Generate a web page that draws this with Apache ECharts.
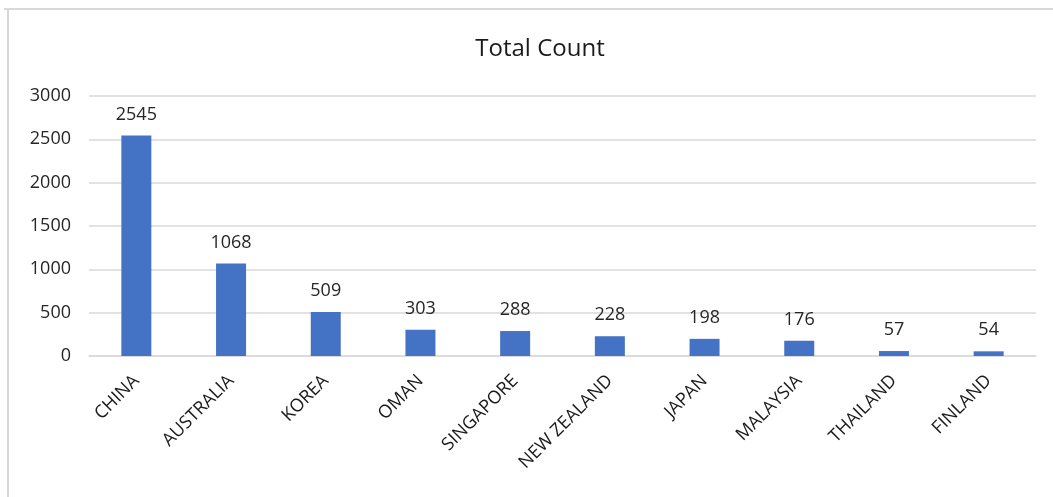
<!DOCTYPE html>
<html>
<head>
<meta charset="utf-8">
<script src="https://cdn.jsdelivr.net/npm/echarts@6/dist/echarts.min.js"></script>
<style>
html,body{margin:0;padding:0;background:#fff;}
#chart{width:1053px;height:497px;}
</style>
</head>
<body>
<div id="chart"></div>
<script>
var categories = ['CHINA','AUSTRALIA','KOREA','OMAN','SINGAPORE','NEW ZEALAND','JAPAN','MALAYSIA','THAILAND','FINLAND'];
var totalCount = [2545,1068,509,303,288,228,198,176,57,54];
var yTicks = [0,500,1000,1500,2000,2500,3000];

var chart = echarts.init(document.getElementById('chart'));
var font = '"Open Sans", "Noto Sans", sans-serif';
chart.setOption({
  animation: false,
  backgroundColor: '#fff',
  title: {
    text: 'Total Count',
    left: 'center',
    left: 535,
    textAlign: 'center',
    top: 32,
    textStyle: {fontFamily: font, fontSize: 24, fontWeight: 'normal', color: '#1a1a1a'}
  },
  graphic: [
    {type: 'line', shape: {x1: 4, y1: 9, x2: 1053, y2: 9}, style: {stroke: '#d9d9d9', lineWidth: 2}},
    {type: 'line', shape: {x1: 8, y1: 9, x2: 8, y2: 497}, style: {stroke: '#d9d9d9', lineWidth: 2}}
  ],
  grid: {left: 89, right: 17, top: 96, bottom: 141, containLabel: false},
  xAxis: {
    type: 'category',
    data: categories,
    axisLine: {lineStyle: {color: '#d9d9d9', width: 1.5}},
    axisTick: {show: false},
    axisLabel: {rotate: 45, margin: 22, fontFamily: font, fontSize: 18, color: '#1a1a1a', interval: 0}
  },
  yAxis: {
    type: 'value',
    min: yTicks[0],
    max: yTicks[yTicks.length - 1],
    interval: yTicks[1] - yTicks[0],
    axisLine: {show: false},
    axisTick: {show: false},
    splitLine: {lineStyle: {color: '#d9d9d9', width: 1.5}},
    axisLabel: {margin: 18, fontFamily: font, fontSize: 18, color: '#262626', formatter: function (v) { return String(v); }}
  },
  series: [{
    type: 'bar',
    data: totalCount,
    barWidth: 30,
    itemStyle: {color: '#4472c4'},
    label: {show: true, position: 'top', distance: 12, fontFamily: font, fontSize: 18, color: '#262626'}
  }]
});
</script>
</body>
</html>
